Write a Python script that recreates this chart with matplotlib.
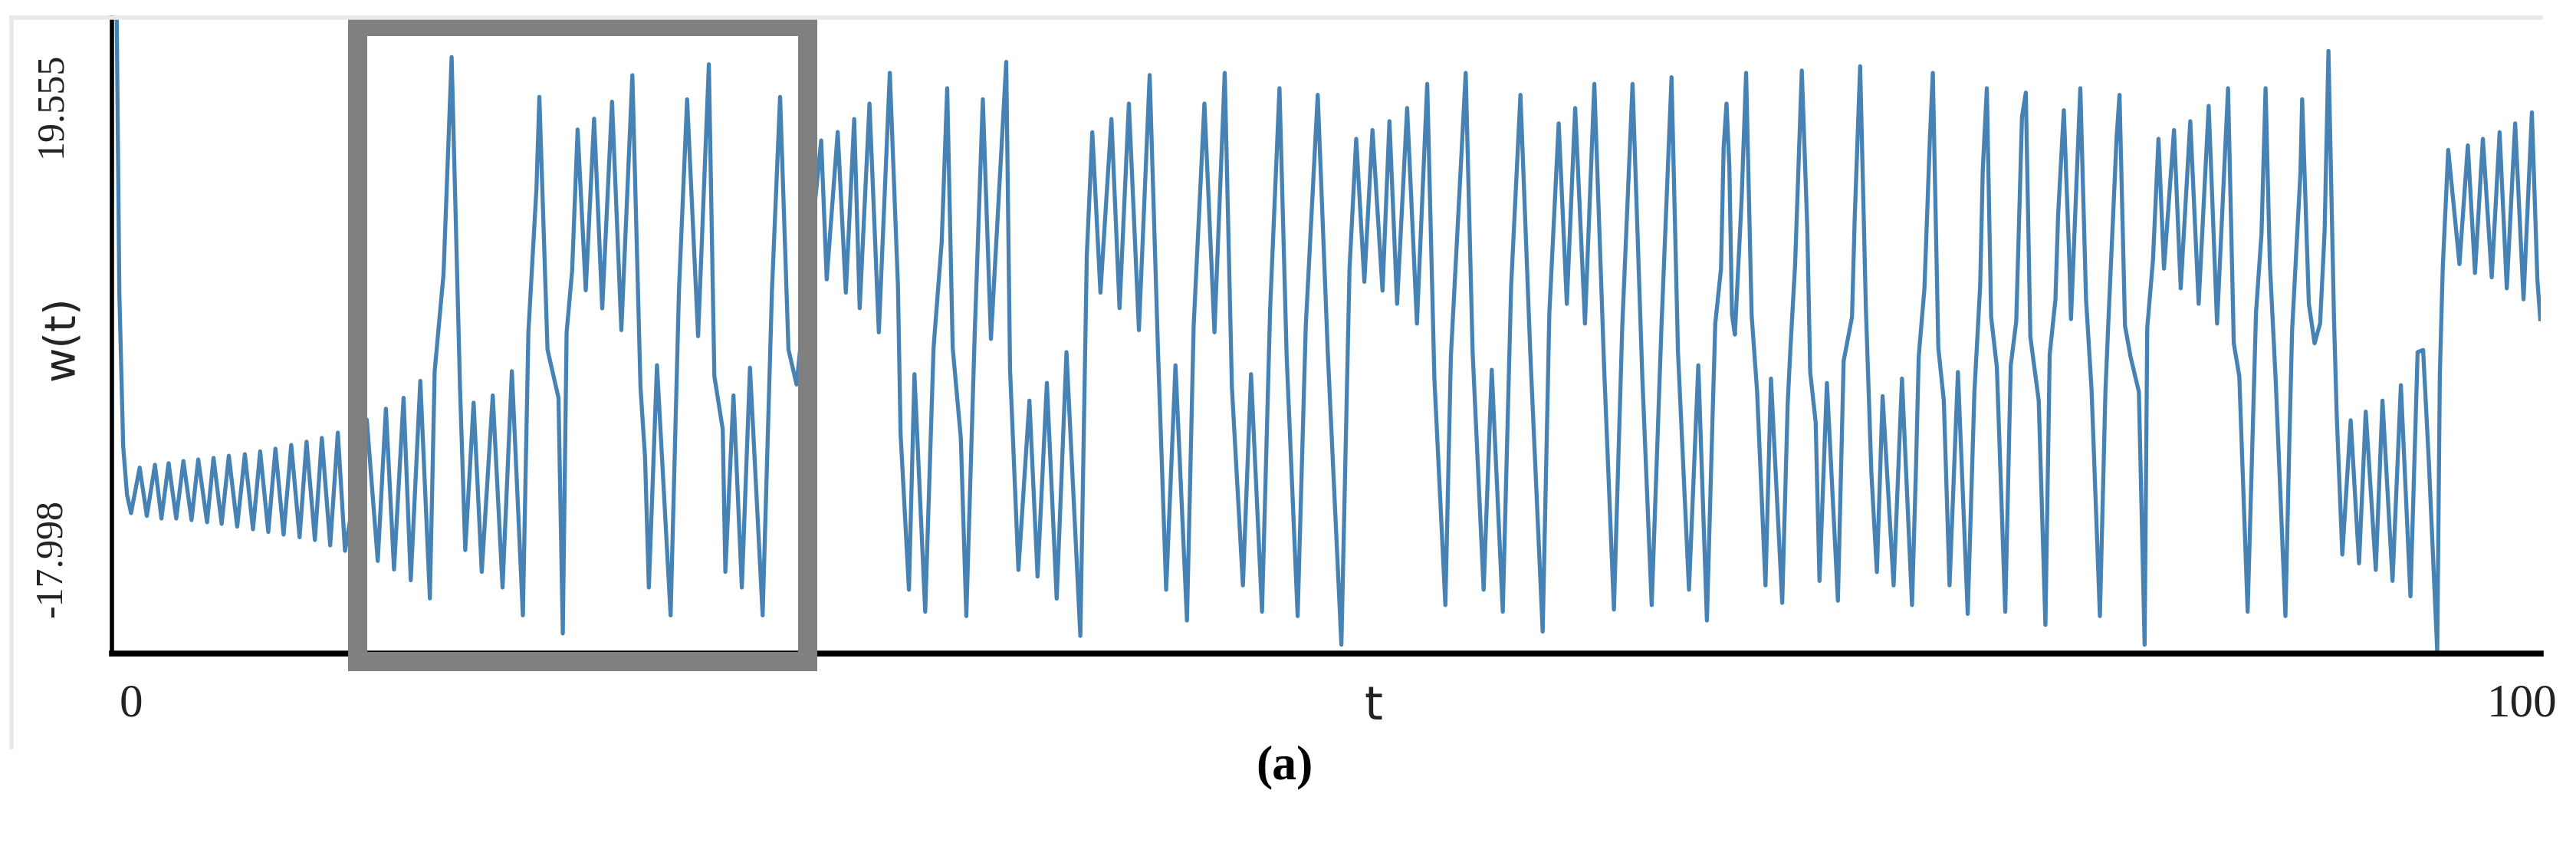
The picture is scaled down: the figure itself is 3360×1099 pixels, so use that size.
import matplotlib
matplotlib.use("Agg")
import matplotlib.pyplot as plt
from matplotlib.patches import Rectangle
from matplotlib.lines import Line2D

# ---- data (estimated extrema of w(t)) ----
t_transient = [-0.6, -0.49, -0.33, -0.17, 0.0, 0.36, 0.66, 1.0, 1.27, 1.57, 1.89, 2.19, 2.53, 2.81, 3.18, 3.45,
               3.79, 4.09, 4.44, 4.76, 5.1, 5.4, 5.74, 6.04, 6.38, 6.7, 7.05, 7.34, 7.69, 7.98, 8.33, 8.65, 8.95]
w_transient = [27, 4.0, -8.7, -12.7, -14.24, -10.47, -14.47, -10.24, -14.69, -10.11, -14.69, -9.93, -14.82, -9.8,
               -15.0, -9.67, -15.13, -9.49, -15.36, -9.36, -15.58, -9.13, -15.8, -8.91, -16.02, -8.6, -16.24,
               -8.33, -16.47, -8.02, -16.91, -7.58, -17.36]

t_box = [9.86, 10.32, 10.66, 11.0, 11.4, 11.7, 12.1, 12.5, 12.7, 13.07, 13.41, 13.76, 13.98, 14.33, 14.67, 15.13,
         15.54, 15.93, 16.39, 16.62, 16.96, 17.08, 17.42, 17.88, 18.06, 18.22, 18.45, 18.68, 19.02, 19.37, 19.71,
         20.12, 20.51, 20.97, 21.31, 21.5, 21.66, 22.0, 22.57, 22.92, 23.26, 23.72, 24.17, 24.4, 24.75, 24.86,
         25.2, 25.55, 25.89, 26.42, 26.81, 27.15, 27.5, 27.84, 28.87, 29.1, 29.56]
w_box = [-6.5, -18.2, -5.6, -18.9, -4.7, -19.8, -3.3, -21.3, -2.5, 5.5, 23.5, -3.8, -17.3, -5.1, -19.1, -4.5,
         -20.4, -2.5, -22.7, 0.7, 12.7, 20.2, -0.7, -4.7, -24.2, 0.7, 5.8, 17.5, 4.2, 18.4, 2.7,
         19.8, 0.9, 22.0, -3.8, -9.6, -20.4, -2.0, -22.7, 4.2, 20.0, 0.4, 22.9, -2.9, -7.3, -19.1,
         -4.5, -20.4, -2.2, -22.7, 4.2, 20.2, -0.7, -3.6, 16.6, 5.1, 17.3]

t_mid = [29.9, 30.25, 30.48, 30.89, 31.28, 31.74, 32.08, 32.19, 32.54, 32.77, 33.22, 33.57, 33.91, 34.14, 34.37,
         34.71, 34.94, 35.29, 35.63, 35.97, 36.61, 36.77, 37.12, 37.58, 37.92, 38.31, 38.72, 39.13, 39.71, 39.98,
         40.21, 40.55, 41.01, 41.35, 41.74, 42.16, 42.61, 42.96, 43.3, 43.69, 44.17, 44.45, 44.9, 45.32, 45.75,
         46.05, 46.51, 46.85, 47.31, 47.65, 48.04, 48.34, 48.8, 49.14, 49.64, 50.06, 50.63, 50.97, 51.25, 51.59,
         51.93, 52.35, 52.64, 52.96, 53.38, 53.79, 54.22, 54.52, 54.98, 55.21, 55.83, 56.12, 56.58, 56.92, 57.38,
         57.73, 58.12, 58.53, 59.05, 59.33, 59.72, 60.06, 60.41, 60.82, 61.21, 61.62, 62.03, 62.38, 62.81, 63.22,
         63.61, 64.02, 64.44, 64.71, 65.17, 65.56]
w_mid = [4.0, 18.37, 2.72, 19.65, 0.72, 22.19, 4.54, -7.66, -20.58, -2.74, -22.4, -0.56, 8.18, 20.92, -0.56,
         -8.02, -22.76, 0.53, 20.01, 0.17, 23.1, -2.38, -18.94, -4.93, -19.49, -3.47, -21.31, -0.92, -24.4, 7.09,
         17.28, 4.0, 18.37, 2.72, 19.65, 0.9, 22.01, -0.92, -20.58, -2.01, -23.13, 1.26, 19.65, 0.72, 22.19,
         -3.83, -20.22, -2.74, -22.4, 2.72, 20.92, -1.29, -22.76, 1.26, 20.37, -0.92, -25.13, 5.99, 16.73, 4.9,
         17.46, 4.17, 18.19, 3.08, 19.28, 1.44, 21.28, -3.11, -21.85, -1.29, 22.19, -0.92, -20.58, -2.38, -22.4,
         4.54, 20.37, -0.92, -24.04, 2.35, 18.01, 3.08, 19.28, 1.44, 21.28, -2.2, -22.22, 1.26, 21.28, -3.11,
         -21.85, 1.26, 21.83, -0.92, -20.58, -2.01]

t_late = [65.92, 66.16, 66.27, 66.51, 66.62, 66.74, 66.86, 66.97, 67.09, 67.37, 67.56, 67.79, 68.02, 68.14, 68.37,
          68.6, 69.07, 69.3, 69.42, 69.61, 69.89, 70.12, 70.24, 70.47, 70.63, 70.94, 71.4, 71.64, 71.99, 72.1,
          72.33, 72.57, 72.8, 73.03, 73.27, 73.73, 74.08, 74.5, 74.67, 74.78, 75.02, 75.25, 75.37, 75.6, 75.83,
          76.07, 76.42, 76.83, 77.11, 77.35, 77.46, 77.63, 77.81, 78.05, 78.4, 78.63, 78.86, 79.1, 79.26, 79.45,
          79.8, 80.08, 80.26, 80.5, 80.61, 80.85, 81.08, 81.15, 81.54, 81.78, 82.01, 82.36, 82.59, 82.71, 83.06,
          83.18, 83.41, 83.64, 83.99, 84.23, 84.34, 84.58, 84.81, 85.04, 85.46, 85.74, 86.14, 86.49, 86.91, 87.26,
          87.72, 87.96, 88.19, 88.54, 88.89, 89.12, 89.29, 89.47, 89.71, 90.12, 90.29, 90.4, 90.75, 90.82, 91.1,
          91.34, 91.57, 91.76, 91.92, 92.15, 92.27, 92.5, 92.85, 93.2, 93.48, 93.9, 94.18, 94.6, 94.95, 95.35,
          95.65, 95.88, 96.12, 96.47, 96.58, 96.7, 96.93, 97.4, 97.75, 98.05, 98.38, 98.75, 99.08, 99.38, 99.73,
          100.08, 100.43, 100.66, 100.78]
w_late = [-23.13, -6.02, 1.44, 5.99, 16.0, 19.65, 14.37, 2.17, 0.53, 11.64, 22.19, 2.17, -4.2, -9.66, -20.22,
          -3.11, -21.67, -5.11, -0.38, 6.36, 22.38, 9.27, -2.56, -6.75, -19.85, -3.47, -21.49, -1.65, 1.99, 10.0,
          22.74, 2.72, -10.93, -19.12, -4.56, -20.22, -3.11, -21.85, -10.2, -1.29, 4.36, 16.91, 22.19, -0.56, -4.93,
          -20.22, -2.56, -22.58, -4.2, 4.54, 14.18, 20.92, 1.99, -2.2, -22.4, -2.01, 1.63, 18.55, 20.56, 0.35,
          -4.93, -23.49, -1.1, 3.45, 10.36, 19.1, 6.72, 1.81, 20.92, 3.45, -4.02, -22.76, -4.2, 1.44, 16.91,
          20.37, 1.26, -1.29, -4.2, -25.13, 1.08, 6.72, 16.73, 5.99, 17.46, 4.36, 18.19, 3.08, 19.46, 1.44,
          20.92, -0.19, -2.92, -22.4, 2.35, 8.91, 20.92, 6.36, -3.11, -22.76, -7.84, 0.9, 14.0, 20.01, 3.08,
          -0.19, 1.44, 9.09, 24.01, 2.0, -6.38, -17.67, -6.56, -18.4, -5.84, -18.94, -4.93, -19.85, -3.65, -21.13,
          -0.92, -0.74, -10.02, -25.68, -2.74, 5.99, 15.82, 6.36, 16.19, 5.63, 16.73, 5.27, 17.28, 4.36, 18.01,
          3.45, 18.92, 5.08, 1.81]

x_ticks = [0, 100]
x_ticklabels = ["0", "100"]
y_ticks = [-17.998, 19.555]
y_ticklabels = ["-17.998", "19.555"]
box_t = (9.47, 28.3)
box_w = (-26.48, 26.09)

t = t_transient + t_box + t_mid + t_late
w = w_transient + w_box + w_mid + w_late

W, H = 3360, 1099
fig = plt.figure(figsize=(W / 100, H / 100), dpi=100)
ax = fig.add_axes([146 / W, 1 - 852 / H, (3314 - 146) / W, (852 - 23) / H])
ax.plot(t, w, color="#4682b4", lw=3.8)
ax.set_xlim(-0.8, 100.8)
ax.set_ylim(-25.86, 26.76)

for s in ["top", "right"]:
    ax.spines[s].set_visible(False)
ax.spines["left"].set_linewidth(4)
ax.spines["bottom"].set_linewidth(5.5)

ax.set_xticks(x_ticks)
ax.set_xticklabels(x_ticklabels, fontfamily="Liberation Serif", fontsize=44, color="#222222")
ax.set_yticks(y_ticks)
ax.set_yticklabels(y_ticklabels, fontfamily="Liberation Serif", fontsize=36, color="#222222",
                   rotation=90, va="center")
ax.tick_params(axis="x", length=0, pad=28)
ax.tick_params(axis="y", length=0, pad=40)

# axis titles placed like the original screenshot
fig.text(1791 / W, 1 - 922 / H, "t", fontfamily="DejaVu Sans", fontsize=44,
         ha="center", va="center", color="#222222")
fig.text(80 / W, 1 - 441 / H, "w(t)", fontfamily="DejaVu Sans", fontsize=40, rotation=90,
         ha="center", va="center", color="#222222")

rect = Rectangle((box_t[0], box_w[0]), box_t[1] - box_t[0], box_w[1] - box_w[0],
                 fill=False, edgecolor="#808080", lw=18, clip_on=False, zorder=5, joinstyle="miter")
ax.add_patch(rect)

# light frame of the original screenshot
fig.add_artist(Line2D([15 / W, 15 / W], [1 - 974 / H, 1 - 23 / H], color="#e8e8e8", lw=4))
fig.add_artist(Line2D([15 / W, 3314 / W], [1 - 23 / H, 1 - 23 / H], color="#e8e8e8", lw=4))

fig.text(1675 / W, 1 - 1000 / H, "(a)", fontfamily="Liberation Serif", fontweight="bold",
         fontsize=46, ha="center", va="center")

fig.savefig("out.png", dpi=100)
